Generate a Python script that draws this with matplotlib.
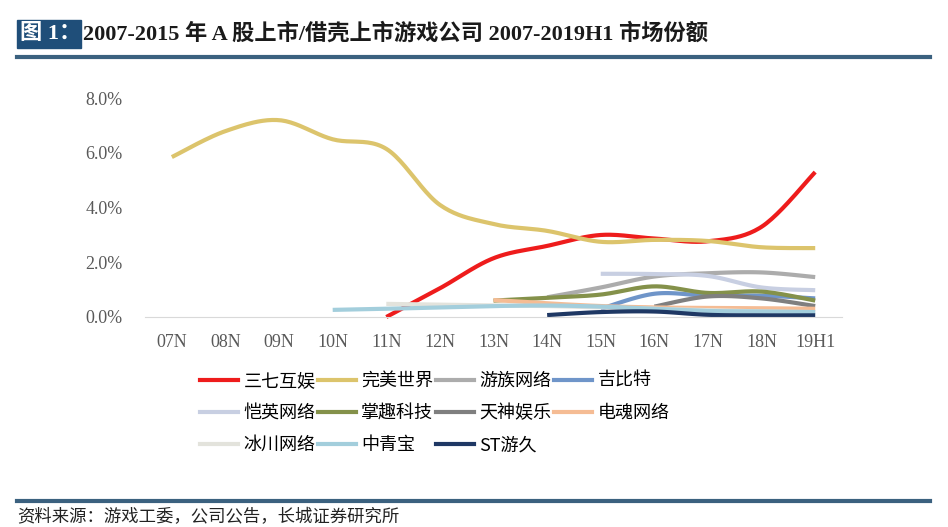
import numpy as np
import matplotlib
matplotlib.use('Agg')
import matplotlib.pyplot as plt
from matplotlib.patches import Rectangle
from matplotlib.lines import Line2D

plt.rcParams['font.family'] = ['Liberation Serif', 'Noto Sans CJK SC', 'DejaVu Sans']

nan = np.nan
periods = ['07N', '08N', '09N', '10N', '11N', '12N', '13N', '14N', '15N', '16N', '17N', '18N', '19H1']
yticks = [0, 2, 4, 6, 8]

# market share, %
sanqi    = [nan, nan, nan, nan, 0.0, 1.05, 2.15, 2.6, 3.0, 2.87, 2.77, 3.3, 5.3]
wanmei   = [5.85, 6.8, 7.2, 6.5, 6.15, 4.1, 3.4, 3.15, 2.75, 2.82, 2.78, 2.55, 2.52]
youzu    = [nan, nan, nan, nan, nan, nan, nan, 0.72, 1.08, 1.48, 1.6, 1.63, 1.46]
jibite   = [nan, nan, nan, nan, nan, nan, nan, nan, 0.3, 0.85, 0.78, 0.78, 0.68]
kaiying  = [nan, nan, nan, nan, nan, nan, nan, nan, 1.58, 1.57, 1.5, 1.08, 0.98]
zhangqu  = [nan, nan, nan, nan, nan, nan, 0.6, 0.7, 0.82, 1.12, 0.88, 0.93, 0.6]
tianshen = [nan, nan, nan, nan, nan, nan, nan, nan, nan, 0.38, 0.75, 0.68, 0.4]
dianhun  = [nan, nan, nan, nan, nan, nan, 0.62, 0.5, 0.4, 0.35, 0.33, 0.32, 0.3]
bingchuan = [nan, nan, nan, nan, 0.48, 0.45, 0.42, 0.4, 0.35, 0.3, 0.25, 0.2, 0.18]
zqb      = [nan, nan, nan, 0.26, 0.3, 0.35, 0.4, 0.42, 0.38, 0.3, 0.22, 0.2, 0.18]
youjiu   = [nan, nan, nan, nan, nan, nan, nan, 0.07, 0.18, 0.2, 0.08, 0.06, 0.06]

names = ['三七互娱', '完美世界', '游族网络', '吉比特', '恺英网络', '掌趣科技',
         '天神娱乐', '电魂网络', '冰川网络', '中青宝', 'ST游久']
series = [sanqi, wanmei, youzu, jibite, kaiying, zhangqu,
          tianshen, dianhun, bingchuan, zqb, youjiu]
colors = ['#ee1c1c', '#dcc46c', '#acacac', '#6f95c9', '#c8cfe2', '#84914a',
          '#7f7f7f', '#f5bc94', '#e3e3dc', '#a3cedc', '#1f3864']


def smooth(xs, ys, n=24):
    # excel-like smoothed line (bezier through points)
    px, py = [], []
    m = len(xs)
    if m < 2:
        return np.array(xs, float), np.array(ys, float)
    for i in range(m - 1):
        p0 = np.array([xs[max(i - 1, 0)], ys[max(i - 1, 0)]])
        p1 = np.array([xs[i], ys[i]])
        p2 = np.array([xs[i + 1], ys[i + 1]])
        p3 = np.array([xs[min(i + 2, m - 1)], ys[min(i + 2, m - 1)]])
        c1 = p1 + (p2 - p0) / 6
        c2 = p2 - (p3 - p1) / 6
        t = np.linspace(0, 1, n)[:, None]
        b = (1 - t) ** 3 * p1 + 3 * (1 - t) ** 2 * t * c1 + 3 * (1 - t) * t ** 2 * c2 + t ** 3 * p2
        px.extend(b[:, 0]); py.extend(b[:, 1])
    return np.array(px), np.array(py)


fig = plt.figure(figsize=(9.48, 5.27), dpi=100)
ax = fig.add_axes([0.153, 0.3985, 0.7352, 0.415])

x = np.arange(len(periods))
for vals, c in zip(series, colors):
    v = np.array(vals, float)
    ok = ~np.isnan(v)
    sx, sy = smooth(x[ok], v[ok])
    ax.plot(sx, sy, color=c, lw=3, solid_capstyle='butt', clip_on=False)

ax.set_xlim(-0.5, len(periods) - 0.5)
ax.set_ylim(0, 8)
ax.set_xticks(x)
ax.set_xticklabels(periods)
ax.set_yticks(yticks)
ax.set_yticklabels(['%.1f%%' % t for t in yticks])
ax.tick_params(length=0, labelsize=13, colors='#595959')
ax.tick_params(axis='x', pad=12)
ax.tick_params(axis='y', pad=16)
for s in ['top', 'right', 'left']:
    ax.spines[s].set_visible(False)
ax.spines['bottom'].set_color('#d9d9d9')

# legend in row order
handles = [Line2D([], [], color=c, lw=3) for c in colors]
order = [0, 4, 8, 1, 5, 9, 2, 6, 10, 3, 7]
fig.legend([handles[i] for i in order], [names[i] for i in order], ncol=4,
           loc='upper left', bbox_to_anchor=(200 / 948, 1 - 372 / 527),
           frameon=False, handlelength=2.1, handletextpad=0.3,
           columnspacing=0.15, labelspacing=0.78, borderpad=0, borderaxespad=0,
           prop={'family': ['Noto Sans CJK SC'], 'size': 13})

# title
fig.patches.append(Rectangle((17 / 948, 1 - 48 / 527), 64 / 948, 28 / 527,
                             transform=fig.transFigure, color='#1f4e79'))
fig.text(20 / 948, 1 - 34 / 527, '图 1：', color='white', fontsize=16,
         fontweight='bold', va='center', family=['Liberation Serif', 'Noto Sans CJK SC'])
fig.text(83 / 948, 1 - 34 / 527, '2007-2015 年 A 股上市/借壳上市游戏公司 2007-2019H1 市场份额',
         color='#1a1a1a', fontsize=16, fontweight='bold', va='center',
         family=['Liberation Serif', 'Noto Sans CJK SC'])
fig.lines.append(Line2D([17 / 948, 930 / 948], [1 - 56.5 / 527] * 2, transform=fig.transFigure,
                        color='#3b617f', lw=3))
fig.lines.append(Line2D([17 / 948, 930 / 948], [1 - 500.5 / 527] * 2, transform=fig.transFigure,
                        color='#3b617f', lw=3))
fig.text(17 / 948, 1 - 517 / 527, '资料来源：游戏工委，公司公告，长城证券研究所',
         fontsize=12.5, va='center', color='#222222', family=['Noto Sans CJK SC'])

fig.savefig('out.png', dpi=100)
